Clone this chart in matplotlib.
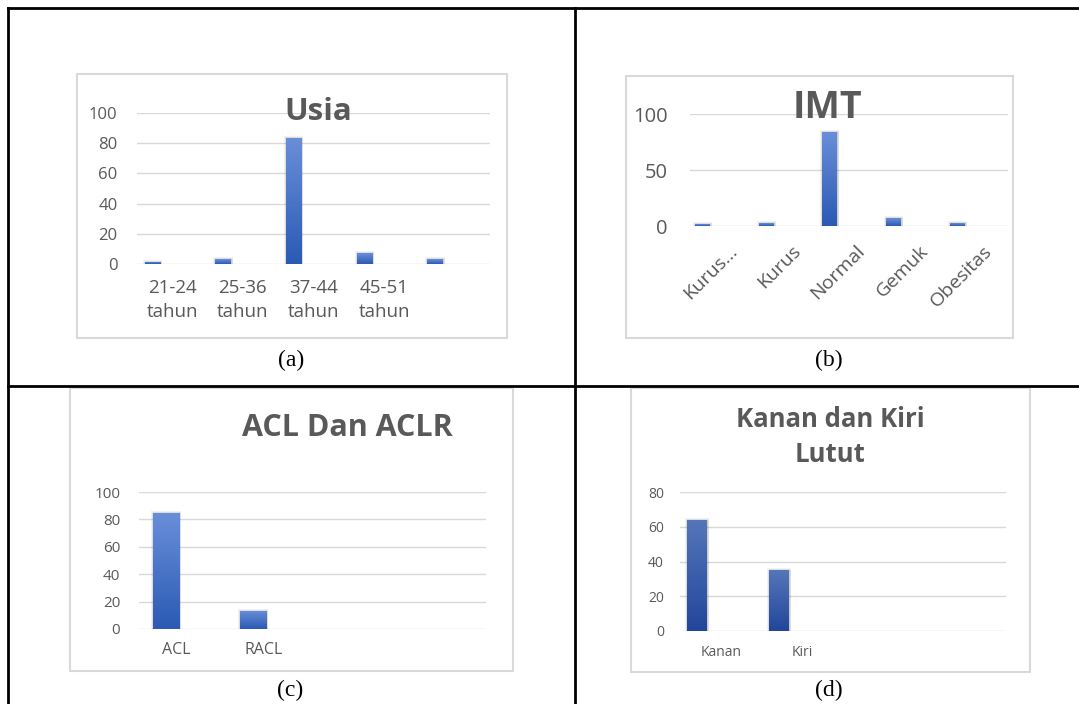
import numpy as np
import matplotlib
matplotlib.use("Agg")
import matplotlib.pyplot as plt
from matplotlib.colors import LinearSegmentedColormap
from matplotlib.patches import Rectangle
from matplotlib.lines import Line2D
import matplotlib.transforms as mtransforms

# ---- data ----
usia_labels = ["21-24\ntahun", "25-36\ntahun", "37-44\ntahun", "45-51\ntahun", ""]
usia_values = [1.5, 3, 83.5, 7, 3]

imt_labels = ["Kurus…", "Kurus", "Normal", "Gemuk", "Obesitas"]
imt_values = [1.5, 2.5, 84, 7, 2.5]

acl_labels = ["ACL", "RACL", "", ""]
acl_values = [85, 13.5, 0, 0]

lutut_labels = ["Kanan", "Kiri", "", ""]
lutut_values = [64, 35, 0, 0]

W, H = 1079, 704
DPI = 100
TXT = "#595959"
GRID = "#d9d9d9"
FONT = ["Open Sans", "DejaVu Sans"]

fig = plt.figure(figsize=(W / DPI, H / DPI), dpi=DPI)
fig.patch.set_facecolor("white")


def fx(x):
    return x / W


def fy(y):
    return 1 - y / H


def add_axes(x0, x1, y_top, y_bot):
    return fig.add_axes([fx(x0), fy(y_bot), (x1 - x0) / W, (y_bot - y_top) / H])


def gradient_bars(ax, bars, top, bottom):
    cmap = LinearSegmentedColormap.from_list("barfill", [bottom, top])
    grad = np.linspace(0, 1, 256).reshape(-1, 1)
    for b in bars:
        h = b.get_height()
        if not h or h <= 0:
            continue
        x, y, w = b.get_x(), b.get_y(), b.get_width()
        # soft shadow around the bar
        for k, a in ((3.0, 0.05), (2.0, 0.07), (1.0, 0.09)):
            sh = Rectangle((x, y), w, h, facecolor="none", edgecolor="#000000",
                           linewidth=k, alpha=a, zorder=2)
            ax.add_patch(sh)
        im = ax.imshow(grad, extent=[x, x + w, y, y + h], origin="lower",
                       cmap=cmap, aspect="auto", zorder=3, interpolation="bilinear")
        im.set_clip_path(b)


def style_axes(ax, ymax, yticks, ytick_size, ypad):
    ax.set_ylim(0, ymax)
    ax.set_yticks(yticks)
    ax.yaxis.grid(True, color=GRID, linewidth=1.0, zorder=0)
    ax.set_axisbelow(True)
    for s in ax.spines.values():
        s.set_visible(False)
    ax.tick_params(axis="both", length=0, colors=TXT)
    ax.tick_params(axis="y", labelsize=ytick_size, pad=ypad)
    for lab in ax.get_yticklabels():
        lab.set_fontfamily(FONT)
    ax.set_facecolor("none")


def shift_xlabels(ax, dx_px, dy_px=0):
    off = mtransforms.ScaledTranslation(dx_px / DPI, -dy_px / DPI, fig.dpi_scale_trans)
    for lab in ax.get_xticklabels():
        lab.set_transform(lab.get_transform() + off)


def draw_bars(ax, values, width, offset, top, bottom):
    x = np.arange(len(values))
    bars = ax.bar(x + offset, values, width=width, color=bottom, zorder=3)
    gradient_bars(ax, bars, top, bottom)
    ax.set_xlim(-0.5, len(values) - 0.5)
    ax.set_xticks(x)
    return x


LIGHT_TOP, LIGHT_BOT = "#6a8fd9", "#2a5ab4"
DARK_TOP, DARK_BOT = "#5676ba", "#22469a"

# ---- (a) Usia ----
ax = add_axes(137, 490, 113, 264)
draw_bars(ax, usia_values, 0.22, -0.28, LIGHT_TOP, LIGHT_BOT)
style_axes(ax, 100, [0, 20, 40, 60, 80, 100], 12, 14)
ax.set_xticklabels(usia_labels, fontsize=13.5, color=TXT, family=FONT, linespacing=1.4)
ax.tick_params(axis="x", pad=11)

# ---- (b) IMT ----
ax = add_axes(690, 1008, 114, 226)
draw_bars(ax, imt_values, 0.235, -0.30, LIGHT_TOP, LIGHT_BOT)
style_axes(ax, 100, [0, 50, 100], 14.5, 16)
ax.set_xticklabels(imt_labels, fontsize=14, color=TXT, family=FONT,
                   rotation=45, ha="right", va="center", rotation_mode="anchor")
ax.tick_params(axis="x", pad=0)
shift_xlabels(ax, 13, 22)

# ---- (c) ACL Dan ACLR ----
ax = add_axes(139, 486, 492, 629)
draw_bars(ax, acl_values, 0.30, -0.185, LIGHT_TOP, LIGHT_BOT)
style_axes(ax, 100, [0, 20, 40, 60, 80, 100], 11, 13.5)
ax.set_xticklabels(acl_labels, fontsize=11.5, color=TXT, family=FONT)
ax.tick_params(axis="x", pad=9)
shift_xlabels(ax, -6)

# ---- (d) Kanan dan Kiri Lutut ----
ax = add_axes(680, 1006, 492, 631)
draw_bars(ax, lutut_values, 0.245, -0.29, DARK_TOP, DARK_BOT)
style_axes(ax, 80, [0, 20, 40, 60, 80], 10, 11.5)
ax.set_xticklabels(lutut_labels, fontsize=10, color=TXT, family=FONT)
ax.tick_params(axis="x", pad=10)

# ---- chart titles ----
fig.text(fx(318), fy(112), "Usia", ha="center", va="center", fontsize=22.5,
         fontweight="bold", color=TXT, family=FONT)
fig.text(fx(827), fy(108), "IMT", ha="center", va="center", fontsize=27,
         fontweight="bold", color=TXT, family=FONT)
fig.text(fx(347), fy(428), "ACL Dan ACLR", ha="center", va="center", fontsize=22,
         fontweight="bold", color=TXT, family=FONT)
fig.text(fx(830), fy(437), "Kanan dan Kiri\nLutut", ha="center", va="center",
         fontsize=18.5, fontweight="bold", color=TXT, family=FONT, linespacing=1.35)

# ---- chart frames ----
for (x0, y0, x1, y1) in [(77, 74, 507, 338), (626, 76, 1013, 338),
                         (70, 388, 513, 671), (631, 388, 1030, 672)]:
    fig.add_artist(Rectangle((fx(x0), fy(y1)), (x1 - x0) / W, (y1 - y0) / H,
                             transform=fig.transFigure, facecolor="none",
                             edgecolor="#d9d9d9", linewidth=1.5, zorder=0))

# ---- table grid ----
lw = 2.0
for xs, ys in [((8, 1079), (8, 8)), ((8, 8), (8, 704)), ((575, 575), (8, 704)),
               ((8, 1079), (386, 386))]:
    fig.add_artist(Line2D([fx(v) for v in xs], [fy(v) for v in ys],
                          transform=fig.transFigure, color="black", linewidth=lw,
                          solid_capstyle="projecting"))

# ---- captions ----
for (cx, cy, t) in [(291, 360, "(a)"), (829, 360, "(b)"), (290, 690, "(c)"), (829, 690, "(d)")]:
    fig.text(fx(cx), fy(cy), t, ha="center", va="center", fontsize=17,
             family=["Liberation Serif", "DejaVu Serif"], color="black")

fig.savefig("out.png", dpi=DPI)
